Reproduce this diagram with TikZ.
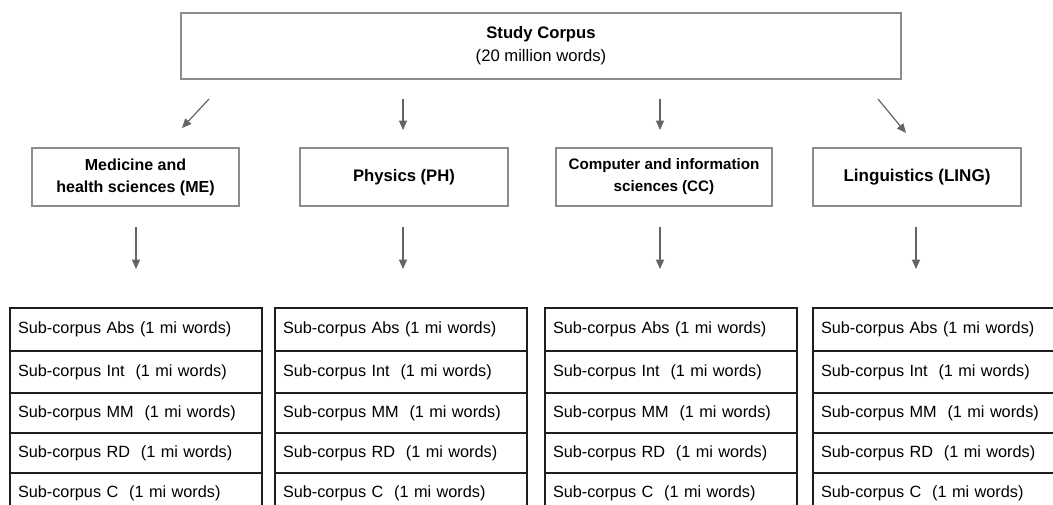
\documentclass[tikz,border=0pt]{standalone}
\usepackage{fontspec}
\setmainfont{Liberation Sans}
\usepackage{tikz}
\usetikzlibrary{positioning,arrows.meta}
\definecolor{frame}{RGB}{140,140,140}
\definecolor{arrowgray}{RGB}{100,100,100}
\definecolor{ink}{RGB}{30,30,30}
\tikzset{
  topbox/.style={draw=frame, line width=1pt, fill=white, align=center, minimum width=540pt, minimum height=49.5pt, font=\fontsize{12.5}{17.5}\selectfont},
  field/.style={draw=frame, line width=1pt, fill=white, align=center, minimum width=#1, minimum height=43.5pt, font=\fontsize{12}{16.5}\selectfont\bfseries},
  field/.default={155.25pt},
  cell/.style={draw=ink, line width=0.8pt, align=left, minimum width=189pt, text width=177pt, inner xsep=6pt, font=\fontsize{12.2}{14}\selectfont},
  arrow/.style={-{Triangle[length=7pt, width=6pt]}, line width=0.9pt, draw=arrowgray}
}
\begin{document}
\begin{tikzpicture}[x=0.75pt, y=-0.75pt]
  \clip (0,0) rectangle (1053,504);
  \fill[white] (0,0) rectangle (1053,504);
  % top
  \node[topbox] (corpus) at (541,46) {\textbf{Study Corpus}\\(20 million words)};
  % fields
  \node[field] (me) at (135.5,177) {Medicine and\\health sciences (ME)};
  \node[field={156pt}, font=\fontsize{12.5}{16.5}\selectfont\bfseries] (ph) at (404,177) {Physics (PH)};
  \node[field={162pt}, font=\fontsize{11.4}{16.5}\selectfont\bfseries] (cc) at (664,177) {Computer and information\\sciences (CC)};
  \node[field={156pt}, font=\fontsize{12.8}{16.5}\selectfont\bfseries] (ling) at (917,177) {Linguistics (LING)};
  % free arrow ends
  \coordinate (a1s) at (209,99);  \coordinate (a1e) at (182,128);
  \coordinate (a2s) at (403,99);  \coordinate (a2e) at (403,130);
  \coordinate (a3s) at (660,99);  \coordinate (a3e) at (660,130);
  \coordinate (a4s) at (878,99);  \coordinate (a4e) at (906,133);
  \foreach \a in {a1,a2,a3,a4} \draw[arrow] (\a s) -- (\a e);
  \foreach \f/\x in {me/136, ph/403, cc/660, ling/916} {
    \coordinate (\f s) at (\x,227);
    \coordinate (\f e) at (\x,269);
    \draw[arrow] (\f s) -- (\f e);
  }
  % sub-corpus tables
  \foreach \f/\x in {me/10, ph/275, cc/545, ling/813} {
    \foreach \r/\ya/\yb/\lbl in {1/308/351/{Sub-corpus Abs (1 mi words)},
                                  2/351/393/{Sub-corpus Int~ (1 mi words)},
                                  3/393/433/{Sub-corpus MM~ (1 mi words)},
                                  4/433/473/{Sub-corpus RD~ (1 mi words)},
                                  5/473/514/{Sub-corpus C~ (1 mi words)}}
      \node[cell, minimum height={(\yb-\ya)*0.75pt}] (\f\r) at (\x+126,{(\ya+\yb)/2}) {\lbl};
  }
\end{tikzpicture}
\end{document}
